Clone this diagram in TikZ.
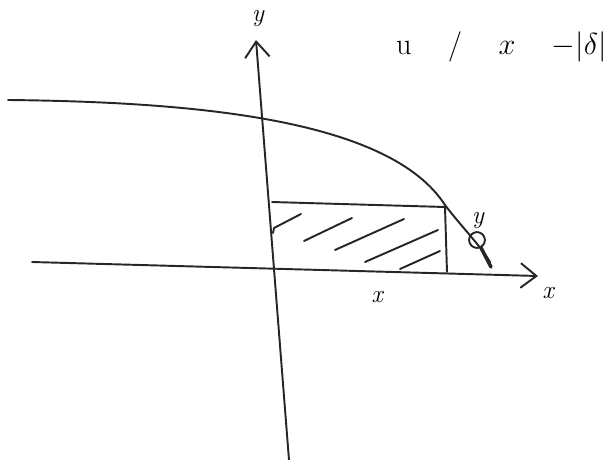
\documentclass[tikz,border=0pt]{standalone}
\usetikzlibrary{arrows.meta}
\begin{document}
\begin{tikzpicture}[x=0.02cm,y=-0.02cm,
  ink/.style={line width=1.1pt,line cap=round,line join=round,black!85},
  axis/.style={ink,-{Straight Barb[length=9pt,width=14pt,line width=1.1pt]}},
  lbl/.style={font=\Large\itshape}]
\useasboundingbox (0,0) rectangle (613,460);
% axes
\coordinate (yb) at (289,460);
\coordinate (yt) at (256,40);
\draw[axis] (yb) -- (yt);
\coordinate (xl) at (32,262);
\coordinate (xr) at (538,276);
\draw[axis] (xl) -- (xr);
\node[lbl] (ylab) at (258,18) {y};
\node[lbl] (xlab) at (548,293) {x};
% curve
\coordinate (c0) at (8,100);
\coordinate (c1) at (445,205);
\coordinate (c2) at (490,262);
\draw[ink] (c0) .. controls (200,102) and (390,120) .. (c1) .. controls (460,225) and (480,245) .. (c2);
% rectangle
\coordinate (r1) at (272,202);
\coordinate (r2) at (445,207);
\coordinate (r3) at (447,272);
\draw[ink] (r1) -- (r2) -- (r3);
% hatching
\draw[ink] (273,233) -- (274,228) -- (301,214);
\draw[ink] (304,241) -- (352,218);
\draw[ink] (335,250) -- (404,219);
\draw[ink] (365,262) -- (438,230);
\draw[ink] (400,269) -- (440,251);
% point
\node[draw,circle,ink,inner sep=0pt,minimum size=9pt] (pt) at (477,240) {};
\coordinate (pe) at (491,267);
\draw[ink,line width=2pt] (pt) -- (pe);
\node[lbl] (ylab2) at (478,220) {y};
\node[lbl] (xlab2) at (377,297) {x};
% equation
\node[font=\LARGE,anchor=west] (eq) at (390,47) {u\hspace{1.2em}/\hspace{1.2em}$x$\hspace{1.2em}$-|\delta|$};
\end{tikzpicture}
\end{document}
